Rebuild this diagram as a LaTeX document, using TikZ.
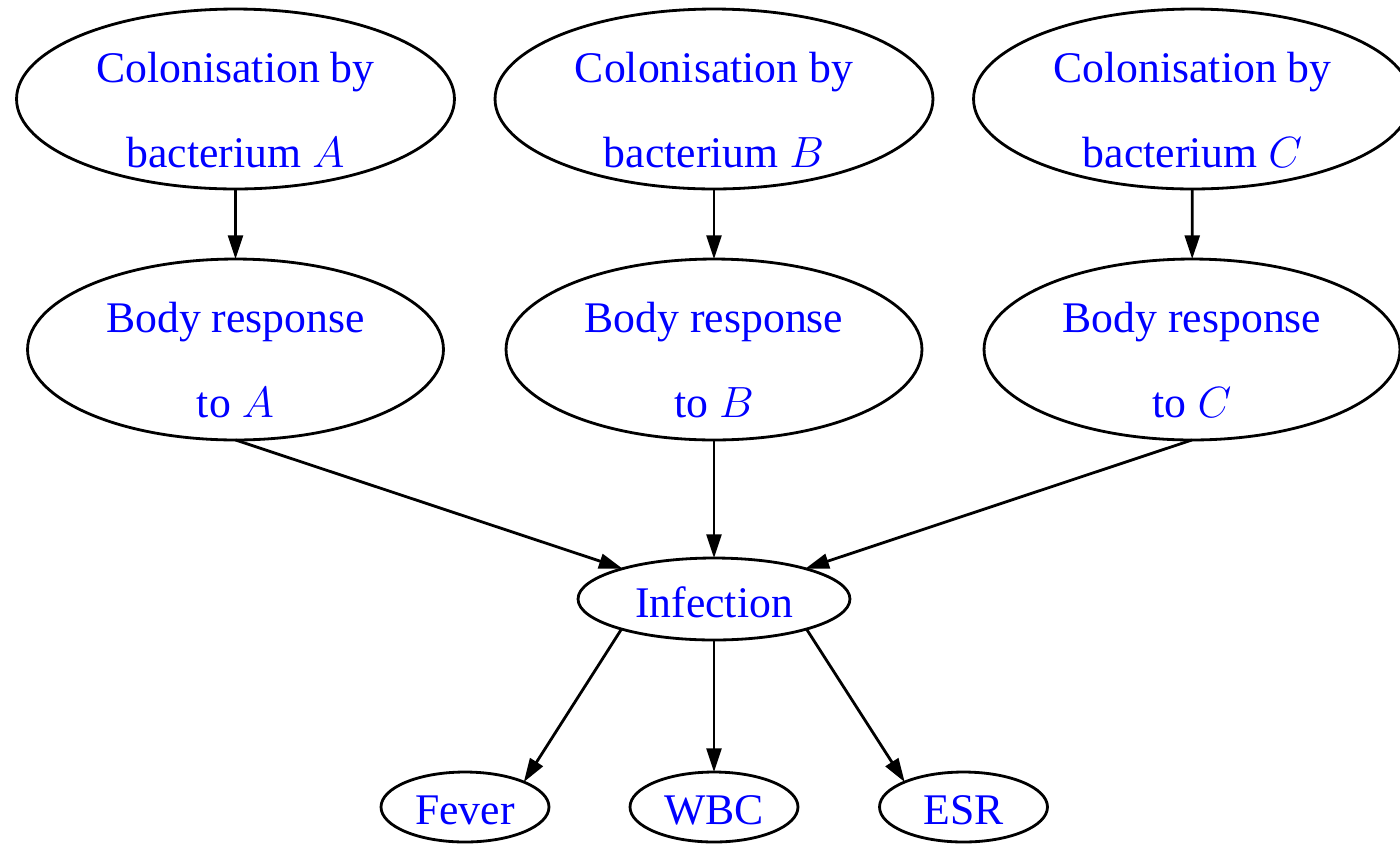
\documentclass[tikz,border=0pt]{standalone}
\usepackage{fontspec}
\setmainfont{Liberation Serif}
\usetikzlibrary{shapes.geometric,arrows.meta}
\definecolor{labelblue}{RGB}{0,0,255}
\begin{document}
\begin{tikzpicture}[x=0.02cm,y=-0.02cm,
  oval/.style={draw, ellipse, line width=1.6pt, inner sep=0pt, outer sep=0pt},
  topoval/.style={oval, minimum width=8.76cm, minimum height=3.6cm},
  midoval/.style={oval, minimum width=8.32cm, minimum height=3.62cm},
  infoval/.style={oval, minimum width=5.44cm, minimum height=1.64cm},
  leafoval/.style={oval, minimum width=3.36cm, minimum height=1.4cm},
  lbl/.style={text=labelblue, anchor=base, inner sep=0pt,
    font=\fontsize{24.88}{30}\selectfont},
  edge/.style={line width=1.6pt, -{Triangle[length=13.5pt,width=8.5pt]}}
]
\useasboundingbox (0,0) rectangle (1400,843);

% colonisation nodes
\node[topoval] (ca) at (235.5,99) {};
\node[topoval] (cb) at (714,99) {};
\node[topoval] (cc) at (1192.5,99) {};
\node[lbl] (ca1) at (235.5,82) {Colonisation by};
\node[lbl] (ca2) at (235.5,167) {bacterium $A$};
\node[lbl] (cb1) at (714,82) {Colonisation by};
\node[lbl] (cb2) at (714,167) {bacterium $B$};
\node[lbl] (cc1) at (1192.5,82) {Colonisation by};
\node[lbl] (cc2) at (1192.5,167) {bacterium $C$};

% body response nodes
\node[midoval] (ra) at (235.5,349.5) {};
\node[midoval] (rb) at (714,349.5) {};
\node[midoval] (rc) at (1192,349.5) {};
\node[lbl] (ra1) at (235.5,332) {Body response};
\node[lbl] (ra2) at (235.5,417) {to $A$};
\node[lbl] (rb1) at (714,332) {Body response};
\node[lbl] (rb2) at (714,417) {to $B$};
\node[lbl] (rc1) at (1192,332) {Body response};
\node[lbl] (rc2) at (1192,417) {to $C$};

% infection
\node[infoval] (inf) at (714,599) {};
\node[lbl] (inft) at (714,617) {Infection};

% observations
\node[leafoval] (fev) at (465,807) {};
\node[leafoval] (wbc) at (714,807) {};
\node[leafoval] (esr) at (963.5,807) {};
\node[lbl] (fevt) at (465,824) {Fever};
\node[lbl] (wbct) at (714,824) {WBC};
\node[lbl] (esrt) at (963.5,824) {ESR};

% edges
\draw[edge] (ca) -- (ra);
\draw[edge] (cb) -- (rb);
\draw[edge] (cc) -- (rc);
\draw[edge] (ra.south) -- (inf);
\draw[edge] (rb) -- (inf);
\draw[edge] (rc.south) -- (inf);
\draw[edge] (inf.198) -- (fev.23);
\draw[edge] (inf) -- (wbc);
\draw[edge] (inf.-18) -- (esr.157);
\end{tikzpicture}
\end{document}
